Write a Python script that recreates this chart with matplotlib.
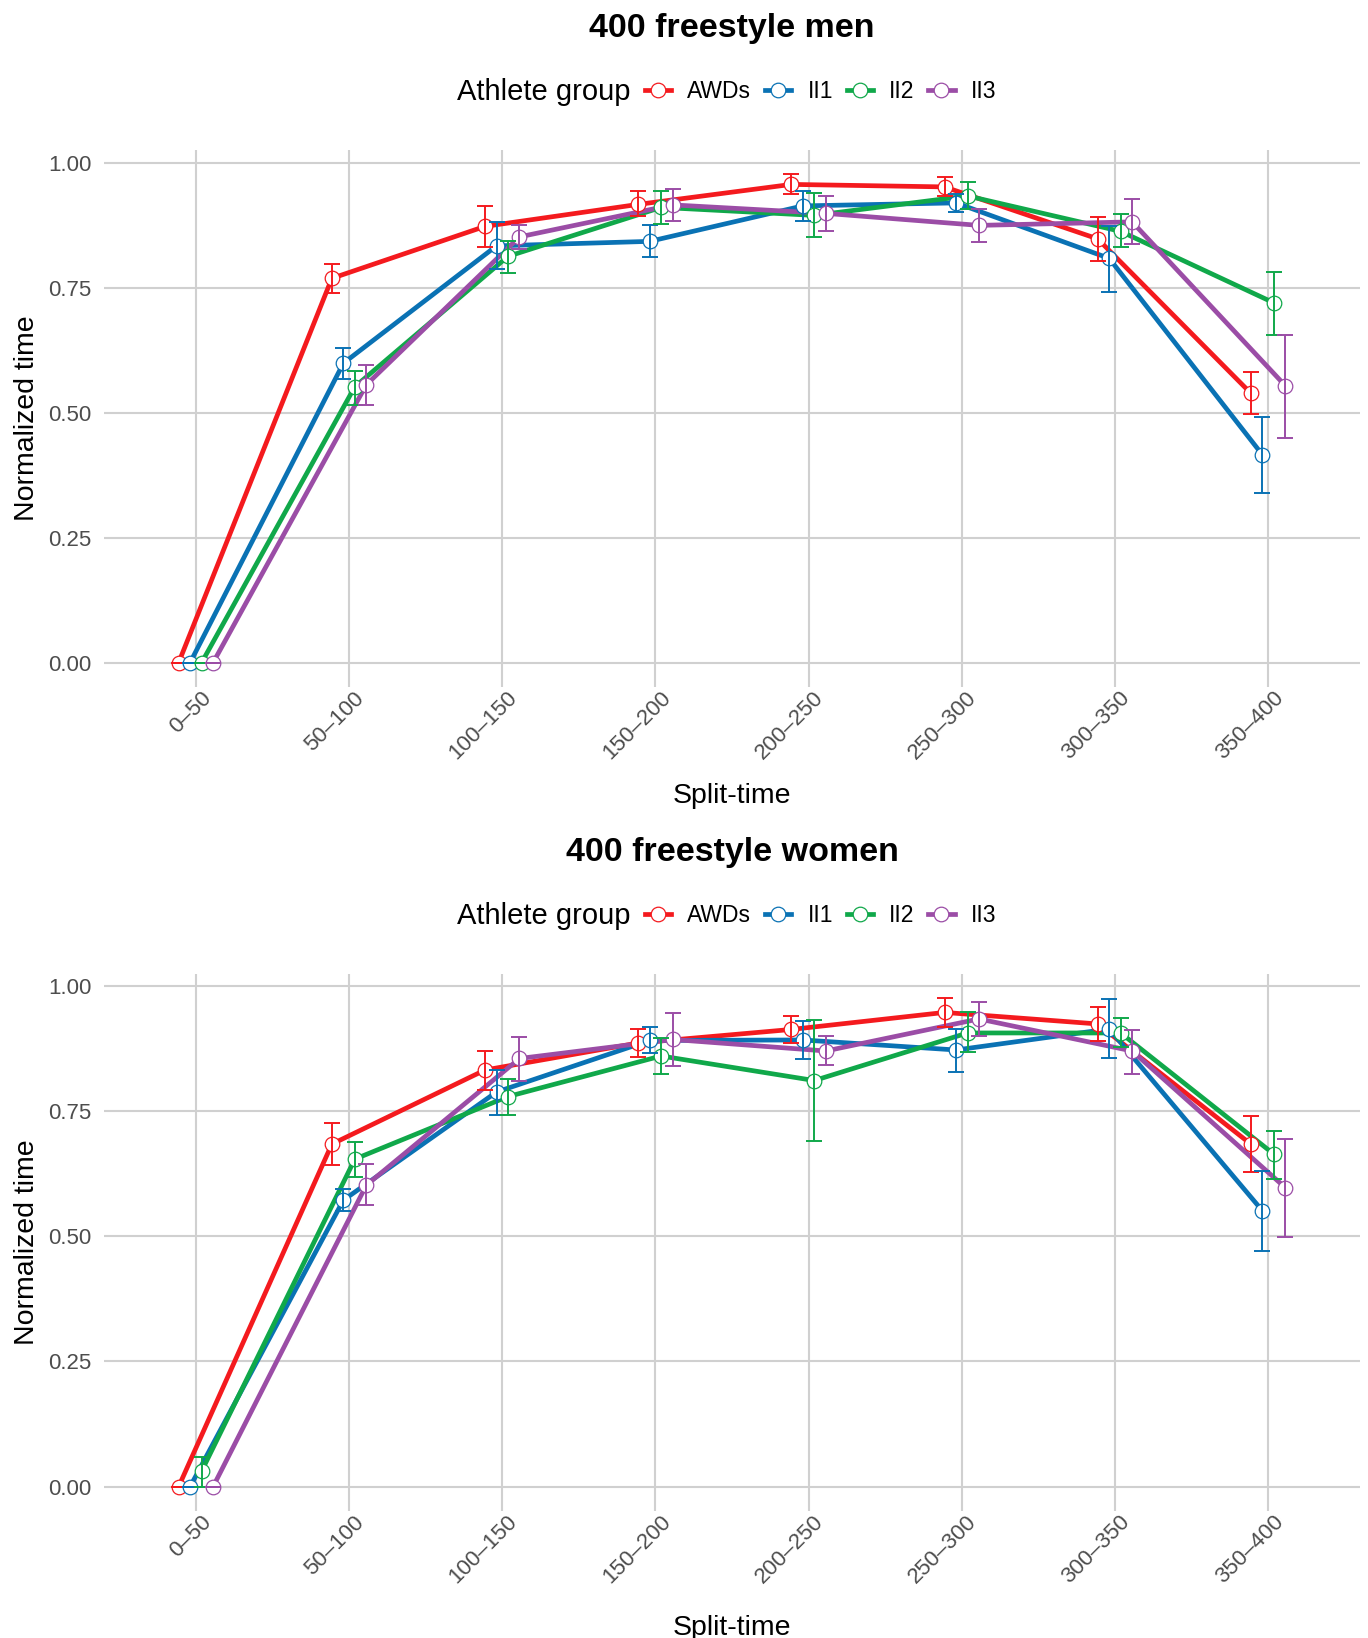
import matplotlib
matplotlib.use('Agg')
import matplotlib.pyplot as plt
from matplotlib.lines import Line2D
import matplotlib.transforms as mtransforms
import numpy as np

plt.rcParams['font.family'] = ['Liberation Sans', 'DejaVu Sans']

splits = ['0\u201350', '50\u2013100', '100\u2013150', '150\u2013200',
          '200\u2013250', '250\u2013300', '300\u2013350', '350\u2013400']
groups = ['AWDs', 'II1', 'II2', 'II3']
colors = ['#F41A1E', '#0A72B4', '#10A84A', '#9B4DA6']

# men: mean, lower, upper per group
men_awd = [0, 0.769, 0.873, 0.917, 0.957, 0.952, 0.848, 0.539]
men_awd_lo = [0, 0.739, 0.832, 0.893, 0.938, 0.934, 0.804, 0.498]
men_awd_hi = [0, 0.797, 0.913, 0.943, 0.977, 0.971, 0.891, 0.581]
men_ii1 = [0, 0.599, 0.834, 0.843, 0.914, 0.920, 0.809, 0.416]
men_ii1_lo = [0, 0.568, 0.787, 0.811, 0.884, 0.901, 0.741, 0.339]
men_ii1_hi = [0, 0.629, 0.882, 0.876, 0.944, 0.937, 0.873, 0.491]
men_ii2 = [0, 0.552, 0.813, 0.911, 0.895, 0.934, 0.863, 0.720]
men_ii2_lo = [0, 0.516, 0.780, 0.877, 0.851, 0.907, 0.831, 0.655]
men_ii2_hi = [0, 0.584, 0.844, 0.943, 0.939, 0.961, 0.898, 0.782]
men_ii3 = [0, 0.556, 0.852, 0.916, 0.899, 0.875, 0.882, 0.554]
men_ii3_lo = [0, 0.516, 0.827, 0.884, 0.864, 0.841, 0.838, 0.450]
men_ii3_hi = [0, 0.595, 0.875, 0.948, 0.934, 0.907, 0.927, 0.656]

# women
wom_awd = [0, 0.684, 0.832, 0.886, 0.913, 0.947, 0.924, 0.684]
wom_awd_lo = [0, 0.642, 0.793, 0.857, 0.886, 0.918, 0.890, 0.628]
wom_awd_hi = [0, 0.726, 0.870, 0.913, 0.939, 0.975, 0.957, 0.740]
wom_ii1 = [0, 0.572, 0.788, 0.891, 0.892, 0.872, 0.914, 0.551]
wom_ii1_lo = [0, 0.550, 0.743, 0.865, 0.854, 0.829, 0.855, 0.471]
wom_ii1_hi = [0, 0.594, 0.832, 0.918, 0.929, 0.913, 0.974, 0.631]
wom_ii2 = [0.031, 0.654, 0.779, 0.860, 0.811, 0.906, 0.906, 0.664]
wom_ii2_lo = [0.0, 0.619, 0.742, 0.824, 0.691, 0.867, 0.877, 0.615]
wom_ii2_hi = [0.059, 0.689, 0.815, 0.895, 0.931, 0.947, 0.936, 0.711]
wom_ii3 = [0, 0.602, 0.855, 0.893, 0.870, 0.934, 0.870, 0.597]
wom_ii3_lo = [0, 0.562, 0.811, 0.841, 0.842, 0.900, 0.825, 0.499]
wom_ii3_hi = [0, 0.644, 0.898, 0.945, 0.899, 0.968, 0.912, 0.695]

men = [(men_awd, men_awd_lo, men_awd_hi), (men_ii1, men_ii1_lo, men_ii1_hi),
       (men_ii2, men_ii2_lo, men_ii2_hi), (men_ii3, men_ii3_lo, men_ii3_hi)]
women = [(wom_awd, wom_awd_lo, wom_awd_hi), (wom_ii1, wom_ii1_lo, wom_ii1_hi),
         (wom_ii2, wom_ii2_lo, wom_ii2_hi), (wom_ii3, wom_ii3_lo, wom_ii3_hi)]

W, H = 1368, 1638
fig = plt.figure(figsize=(W / 100, H / 100), dpi=100)

dodge = [-0.1125, -0.0375, 0.0375, 0.1125]
grid_col = '#D0D0D0'
tick_col = '#4D4D4D'


def panel(top_px, title, data, xlab_y):
    ax = fig.add_axes([104 / W, 1 - (top_px + 537) / H, 1256 / W, 537 / H])
    x = np.arange(len(splits))
    lo_all, hi_all = [], []
    for i, (m, lo, hi) in enumerate(data):
        m = np.array(m); lo = np.array(lo); hi = np.array(hi)
        lo_all.append(lo.min()); hi_all.append(hi.max())
        xs = x + dodge[i]
        ax.plot(xs, m, color=colors[i], lw=3.4, zorder=3, solid_capstyle='butt')
        ax.plot(xs, m, ls='none', marker='o', ms=10.5, mfc='white',
                mec=colors[i], mew=0.9, zorder=4)
        ax.errorbar(xs, m, yerr=[m - lo, hi - m], fmt='none', ecolor=colors[i],
                    elinewidth=1.4, capsize=5.5, capthick=1.4, zorder=5)
    r = max(hi_all) - min(lo_all)
    ax.set_ylim(min(lo_all) - 0.05 * r, max(hi_all) + 0.05 * r)
    ax.set_xlim(-0.6, len(splits) - 1 + 0.6)
    ax.set_yticks([0, 0.25, 0.5, 0.75, 1.0])
    ax.set_yticklabels(['0.00', '0.25', '0.50', '0.75', '1.00'])
    ax.set_xticks(x)
    ax.set_xticklabels([])
    # rotated split labels, shifted a bit right of the tick like the original
    off = mtransforms.ScaledTranslation(12 / 100, -8 / 100, fig.dpi_scale_trans)
    tr = ax.get_xaxis_transform() + off
    for xi, lab in zip(x, splits):
        ax.text(xi, 0, lab, transform=tr, rotation=45, ha='right', va='center',
                rotation_mode='anchor', fontsize=16, color=tick_col)
    ax.tick_params(length=0, labelsize=16, labelcolor=tick_col, pad=9)
    for s in ax.spines.values():
        s.set_visible(False)
    ax.grid(True, color=grid_col, lw=1.5)
    ax.set_axisbelow(True)
    ax.set_xlabel('Split-time', fontsize=20.5)
    ax.xaxis.set_label_coords(0.5, 1 - (xlab_y - top_px) / 537)
    ax.xaxis.label.set_va('center')
    ax.set_ylabel('Normalized time', fontsize=20.5, labelpad=6)

    fig.text(732 / W, 1 - (top_px - 122) / H, title, ha='center', va='center',
             fontsize=24.5, fontweight='bold')
    ly = 1 - (top_px - 58) / H
    fig.text(457 / W, ly, 'Athlete group', ha='left', va='center', fontsize=21)
    handles = [Line2D([], [], color=colors[i], lw=3.4, marker='o', ms=10.5,
                      mfc='white', mec=colors[i], mew=0.9) for i in range(4)]
    fig.legend(handles, groups, loc='center left', bbox_to_anchor=(645 / W, ly),
               ncol=4, frameon=False, fontsize=16.5, handlelength=1.15,
               handletextpad=0.7, columnspacing=0.6, borderaxespad=0,
               borderpad=0)
    return ax


panel(150, '400 freestyle men', men, 796)
panel(974, '400 freestyle women', women, 1628)

fig.savefig('out.png', dpi=100)
